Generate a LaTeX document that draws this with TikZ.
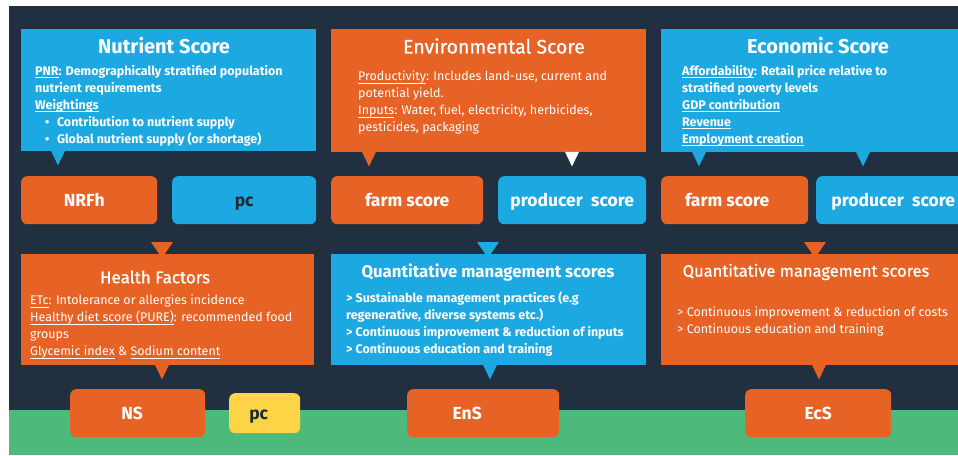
\documentclass[tikz,border=0pt]{standalone}
\usepackage{fontspec}
\setmainfont{Fira Sans}
\newfontfamily\medfont{Fira Sans}[FakeBold=0.8]
\usepackage{tikz}
\usetikzlibrary{%
  backgrounds,
  calc,
  positioning
}

\definecolor{navy}{HTML}{213040}
\definecolor{skyblue}{HTML}{1CA9E1}
\definecolor{rust}{HTML}{E66325}
\definecolor{grass}{HTML}{4DB97B}
\definecolor{mustard}{HTML}{FDD446}
\definecolor{ink}{HTML}{1E2A35}

\tikzset{
  box/.style  = {rectangle, anchor=north west, inner sep=0pt},
  tag/.style  = {rectangle, rounded corners=6pt, anchor=north west, inner sep=0pt,
                 text height=12.5pt, text depth=0pt,
                 text=white, font=\bfseries\fontsize{17.5}{20}\selectfont},
  head/.style = {text=white, font=\bfseries\fontsize{20}{23}\selectfont},
  mhead/.style = {text=white, font=\medfont\fontsize{17}{20}\selectfont},
  body/.style = {anchor=north west, align=left, inner sep=0pt, text=white,
                 font=\fontsize{12.5}{17}\selectfont},
  bbody/.style = {body, font=\bfseries\fontsize{12.5}{17}\selectfont},
}

% pointer below a box: colour, box, x offset from its left side
\newcommand{\tipdn}[3]{%
  \fill [#1] ($(#2.south west)+(#3-7,-0.5)$) -- ($(#2.south west)+(#3+7,-0.5)$)
             -- ($(#2.south west)+(#3,14)$) -- cycle ;}
% pointer above a box, running into it
\newcommand{\tipin}[3]{%
  \fill [#1] ($(#2.north west)+(#3-11,-12)$) -- ($(#2.north west)+(#3+11,-12)$)
             -- ($(#2.north west)+(#3,4)$) -- cycle ;}

\newcommand{\bul}{\hspace*{0.8em}\textbullet\hspace{0.6em}}
\newcommand{\uln}[1]{\setbox0\hbox{#1}\rlap{\rule[-2.4pt]{\wd0}{0.7pt}}\box0\relax}

\begin{document}
\begin{tikzpicture}[x=1pt, y=-1pt]
  \useasboundingbox (0,0) rectangle (958,455) ;
  \clip (0,0) rectangle (958,455) ;
  \fill [white] (0,0) rectangle (958,455) ;
  \fill [navy]  (9,6) rectangle (958,410) ;
  \fill [grass] (9,410) rectangle (958,455) ;

  % top row
  \node [box, fill=skyblue, minimum width=295pt, minimum height=122pt] (nut) at ( 21, 29) {} ;
  \node [box, fill=rust,    minimum width=315pt, minimum height=123pt] (env) at (331, 29) {} ;
  \node [box, fill=skyblue, minimum width=310pt, minimum height=123pt] (eco) at (661, 29) {} ;

  \node [head] (nuthead) at ($(nut.north west)+(143,17)$) {Nutrient Score} ;
  \node [mhead, font=\medfont\fontsize{19.5}{23}\selectfont] (envhead) at ($(env.north west)+(163,17)$) {Environmental Score} ;
  \node [head] (ecohead) at ($(eco.north west)+(157,17)$) {Economic Score} ;

  \node [bbody] (nutbody) at ($(nut.north west)+(14,36)$)
        {\uln{PNR}: Demographically stratified population\\
         nutrient requirements\\
         \uln{Weightings}\\
         \bul Contribution to nutrient supply\\
         \bul Global nutrient supply (or shortage)} ;
  \node [body] (envbody) at ($(env.north west)+(27,42)$)
        {\uln{Productivity}: Includes land-use, current and\\
         potential yield.\\
         \uln{Inputs}: Water, fuel, electricity, herbicides,\\
         pesticides, packaging} ;
  \node [bbody] (ecobody) at ($(eco.north west)+(21,36)$)
        {\uln{Affordability}: Retail price relative to\\
         stratified poverty levels\\
         \uln{GDP contribution}\\
         \uln{Revenue}\\
         \uln{Employment creation}} ;

  % score tags
  \node [tag, fill=rust,    minimum width=136pt, minimum height=48pt] (nrfh)  at ( 21,176) {NRFh\hspace*{10pt}} ;
  \node [tag, fill=skyblue, minimum width=144pt, minimum height=48pt, text=ink] (pc) at (172,176) {pc} ;
  \node [tag, fill=rust,    minimum width=152pt, minimum height=48pt] (envfarm) at (331,176) {farm score} ;
  \node [tag, fill=skyblue, minimum width=148pt, minimum height=48pt] (envprod) at (498,176) {producer\ \ score} ;
  \node [tag, fill=rust,    minimum width=147pt, minimum height=48pt] (ecofarm) at (661,176) {farm score\hspace*{15pt}} ;
  \node [tag, fill=skyblue, minimum width=154pt, minimum height=48pt] (ecoprod) at (816,176) {producer\ \ score} ;

  \tipdn{skyblue}{nut}{37}
  \tipdn{rust}{env}{38}
  \tipdn{white}{env}{241}
  \tipdn{skyblue}{eco}{38}
  \tipdn{skyblue}{eco}{202}

  % lower row
  \node [box, fill=rust,    minimum width=293pt, minimum height=111pt] (hf)  at ( 21,254) {} ;
  \node [box, fill=skyblue, minimum width=315pt, minimum height=111pt] (qen) at (331,254) {} ;
  \node [box, fill=rust,    minimum width=310pt, minimum height=111pt] (qec) at (661,254) {} ;

  \tipin{rust}{hf}{141}
  \tipin{skyblue}{qen}{157}
  \tipin{rust}{qec}{154}

  \node [mhead] (hfhead) at ($(hf.north west)+(134,23)$) {Health Factors} ;
  \node [head, font=\bfseries\fontsize{16.8}{20}\selectfont] (qenhead) at ($(qen.north west)+(157,19)$) {Quantitative management scores} ;
  \node [mhead, font=\medfont\fontsize{16.5}{20}\selectfont] (qechead) at ($(qec.north west)+(145,18)$) {Quantitative management scores} ;

  \node [body] (hfbody) at ($(hf.north west)+(9,41)$)
        {\uln{ETc}: Intolerance or allergies incidence\\
         \uln{Healthy diet score (PURE)}: recommended food\\
         groups\\
         \uln{Glycemic index} \& \uln{Sodium content}} ;
  \node [bbody] (qenbody) at ($(qen.north west)+(15,37.5)$)
        {> Sustainable management practices (e.g\\
         regenerative, diverse systems etc.)\\
         > Continuous improvement \& reduction of inputs\\
         > Continuous education and training} ;
  \node [body] (qecbody) at ($(qec.north west)+(16,53)$)
        {> Continuous improvement \& reduction of costs\\
         > Continuous education and training} ;

  \tipdn{rust}{hf}{141}
  \tipdn{skyblue}{qen}{159}
  \tipdn{rust}{qec}{158}

  % final scores
  \node [tag, fill=rust,    minimum width=135pt, minimum height=48pt] (ns)  at ( 70,389) {NS\hspace*{11pt}} ;
  \node [tag, fill=mustard, minimum width=71pt,  minimum height=40pt, text=ink] (pcy) at (229,393) {pc\hspace*{12pt}} ;
  \node [tag, fill=rust,    minimum width=152pt, minimum height=48pt] (ens) at (407,389) {EnS\hspace*{32pt}} ;
  \node [tag, fill=rust,    minimum width=146pt, minimum height=48pt] (ecs) at (745,389) {EcS} ;
\end{tikzpicture}
\end{document}
